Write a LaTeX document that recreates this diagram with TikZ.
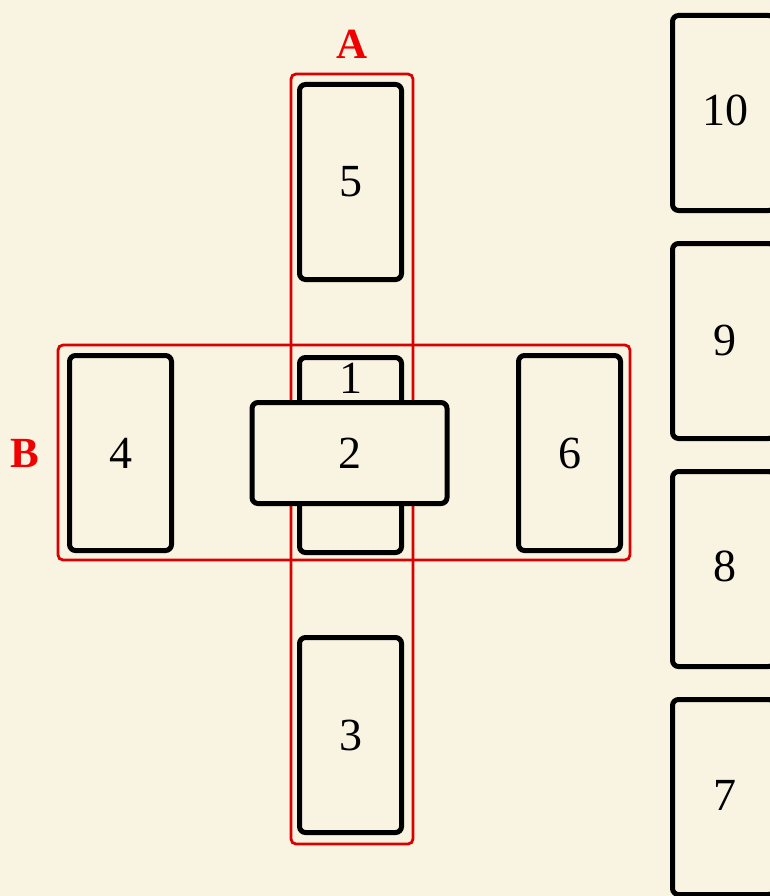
\documentclass[tikz,border=0pt]{standalone}
\usepackage{fontspec}
\setmainfont{Liberation Serif}
\definecolor{parch}{HTML}{F9F3E2}
\definecolor{spreadred}{HTML}{D90000}
\definecolor{labelred}{HTML}{F00000}
\begin{document}
\begin{tikzpicture}[x=1pt,y=-1pt,
  card/.style={draw=black,line width=5pt,rounded corners=6pt,fill=parch,
    minimum width=102pt,minimum height=195pt,inner sep=0pt,
    font=\fontsize{46}{50}\selectfont},
  wide/.style={card,minimum width=195pt,minimum height=101pt},
  num/.style={font=\fontsize{46}{50}\selectfont},
  zone/.style={draw=spreadred,line width=2.8pt,rounded corners=5pt,inner sep=0pt},
  zonelabel/.style={text=labelred,font=\fontsize{43}{46}\selectfont\bfseries}]
\fill[parch] (0,0) rectangle (770,896);
\useasboundingbox (0,0) rectangle (770,896);
% zones
\node[zone,minimum width=122pt,minimum height=770pt] (zA) at (352,459) {};
\node[zone,minimum width=572pt,minimum height=215pt] (zB) at (344,452.5) {};
\node[zonelabel] (lA) at (352,44) {A};
\node[zonelabel] (lB) at (25,453) {B};
% cross
\node[card] (c5) at (350.5,182) {5};
\node[card,anchor=north] (c1) at (350.5,355) {};
\node[card] (c3) at (350.5,735) {3};
\node[card] (c4) at (120.5,453) {4};
\node[card] (c6) at (569.5,453) {6};
\node[num] (n1) at (350.5,378) {1};
\node[wide] (c2) at (349.5,453) {2};
% staff
\node[card,anchor=north west] (c10) at (670,13) {};
\node[num] (n10) at (725,110) {10};
\node[card,anchor=north west] (c9) at (670,241) {};
\node[num] (n9) at (725,340) {9};
\node[card,anchor=north west] (c8) at (670,469) {};
\node[num] (n8) at (725,566) {8};
\node[card,anchor=north west] (c7) at (670,697) {};
\node[num] (n7) at (725,795) {7};
\end{tikzpicture}
\end{document}
